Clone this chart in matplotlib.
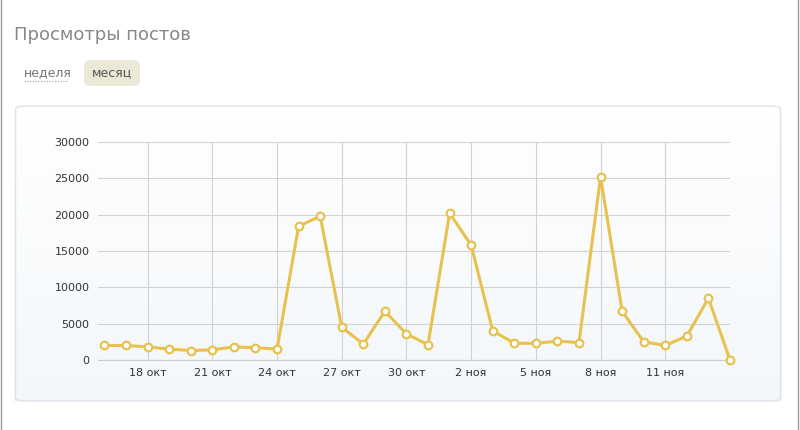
import matplotlib
matplotlib.use("Agg")
import matplotlib.pyplot as plt
from matplotlib.patches import FancyBboxPatch
import numpy as np

days = list(range(30))  # 16 окт .. 14 ноя
values = [2000, 2000, 1800, 1500, 1300, 1400, 1800, 1700, 1500, 18400, 19800, 4500, 2200, 6700,
          3600, 2100, 20200, 15800, 4000, 2300, 2300, 2600, 2400, 25200, 6700, 2500, 2000, 3300, 8500, 0]
tick_pos = [2, 5, 8, 11, 14, 17, 20, 23, 26]
tick_labels = ["18 окт", "21 окт", "24 окт", "27 окт", "30 окт", "2 ноя", "5 ноя", "8 ноя", "11 ноя"]
yticks = [0, 5000, 10000, 15000, 20000, 25000, 30000]

fig = plt.figure(figsize=(8, 4.3), dpi=100)
fig.patch.set_facecolor("white")
fig.add_artist(plt.Rectangle((0.001, -0.01), 0.997, 1.02, transform=fig.transFigure,
                             fill=False, edgecolor="#999999", lw=1))
fig.text(14/800, 1-35/430, "Просмотры постов", fontsize=13, color="#888888", va="center")
fig.text(24/800, 1-73/430, "неделя", fontsize=9, color="#777777", va="center")
fig.add_artist(plt.Line2D([24/800, 67/800], [1-81/430]*2, transform=fig.transFigure,
                          color="#999999", lw=0.8, ls=(0, (1, 1.5))))
fig.add_artist(FancyBboxPatch((84/800, 1-86/430), 56/800, 26/430, boxstyle="round,pad=0,rounding_size=0.012",
                              transform=fig.transFigure, facecolor="#ece8d6", edgecolor="none"))
fig.text(112/800, 1-73/430, "месяц", fontsize=9, color="#555555", va="center", ha="center")

bg = fig.add_axes([14/800, 1-402/430, 768/800, 297/430])
grad = np.linspace(0, 1, 100).reshape(-1, 1)
c1 = np.array([1.0, 1.0, 1.0]); c2 = np.array([0xf3, 0xf7, 0xfb]) / 255
img = c1 * (1 - grad[..., None]) + c2 * grad[..., None]
img = np.repeat(img, 2, axis=1)
bg.imshow(img, aspect="auto", extent=[0, 1, 0, 1])
bg.set_axis_off()
bg.add_patch(FancyBboxPatch((0.002, 0.004), 0.996, 0.992, boxstyle="round,pad=0,rounding_size=0.01",
                            transform=bg.transAxes, fill=False, edgecolor="#dde3e8", lw=1))

ax = fig.add_axes([98/800, 1-360/430, 632/800, 218/430])
ax.set_facecolor("none")
ax.plot(days, values, color="#e8c24e", lw=2.2, marker="o", ms=5.5, mfc="white",
        mec="#e8c24e", mew=1.6, zorder=3, clip_on=False)
ax.set_xlim(-0.3, 29)
ax.set_ylim(0, 30000)
ax.set_xticks(tick_pos)
ax.set_xticklabels(tick_labels)
ax.set_yticks(yticks)
ax.set_yticklabels([str(v) for v in yticks])
ax.grid(True, color="#d2d2d2", lw=0.8)
for s in ax.spines.values():
    s.set_visible(False)
ax.spines["bottom"].set_visible(True)
ax.spines["bottom"].set_color("#cccccc")
ax.tick_params(length=0, labelsize=8, colors="#333333", pad=6)
fig.savefig("out.png", dpi=100)
